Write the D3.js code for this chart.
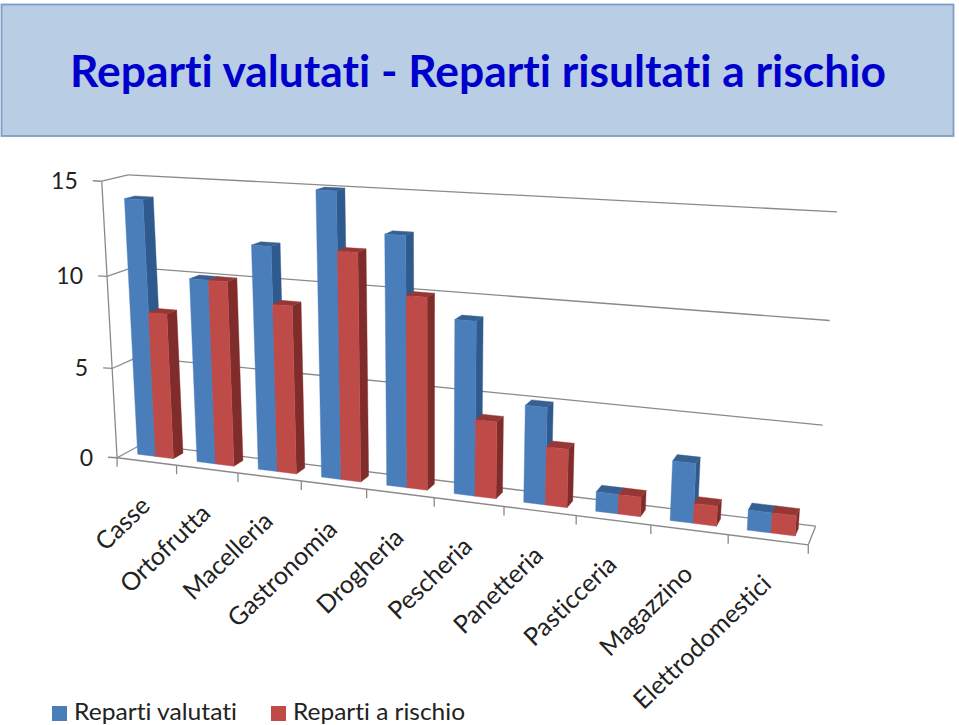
<!DOCTYPE html>
<html><head><meta charset="utf-8">
<script src="https://cdn.jsdelivr.net/npm/d3@7/dist/d3.min.js"></script>
<style>html,body{margin:0;padding:0;background:#fff;overflow:hidden}svg{display:block}text{font-family:Lato,"Open Sans",sans-serif;font-variant-ligatures:none;font-feature-settings:"liga" 0,"clig" 0}</style>
</head><body><svg id="c" width="959" height="725"></svg>
<script>
const categories=["Casse","Ortofrutta","Macelleria","Gastronomia","Drogheria","Pescheria","Panetteria","Pasticceria","Magazzino","Elettrodomestici"];
const repartiValutati=[14,10,12,15,13,9,5,1,3,1];
const repartiRischio=[8,10,9,12,10,4,3,1,1,1];
const seriesNames=["Reparti valutati","Reparti a rischio"];
const valueTicks=[0,5,10,15];

const frontCol=["#4A7EBB","#BE4B48"],sideCol=["#2F5A8E","#7F2C2A"],topCol=["#376092","#953735"];
// camera calibration: corners of the chart box (unit cube) -> screen
const calib=[[0,0,0,119,457],[0,1,0,100,181],[1,0,0,808,546],[0,0,1,140,445],[0,1,1,130,175],[1,0,1,816,525],[1,1,1,837,212]];
function solveCamera(pts){
  const A=[],B=[];
  pts.forEach(([X,Y,Z,u,v])=>{
    A.push([X,Y,Z,1,0,0,0,0,-u*X,-u*Y,-u*Z]);B.push(u);
    A.push([0,0,0,0,X,Y,Z,1,-v*X,-v*Y,-v*Z]);B.push(v);
  });
  const n=11,M=d3.range(n).map(i=>d3.range(n+1).map(j=>
    j<n?d3.sum(A,(r)=>r[i]*r[j]):d3.sum(A,(r,k)=>r[i]*B[k])));
  for(let i=0;i<n;i++){
    let p=i;for(let r=i+1;r<n;r++)if(Math.abs(M[r][i])>Math.abs(M[p][i]))p=r;
    [M[i],M[p]]=[M[p],M[i]];
    for(let r=0;r<n;r++)if(r!==i){const f=M[r][i]/M[i][i];for(let c=i;c<=n;c++)M[r][c]-=f*M[i][c];}
  }
  return d3.range(n).map(i=>M[i][n]/M[i][i]);
}
const P=solveCamera(calib);
const proj=(x,y,z)=>{const w=P[8]*x+P[9]*y+P[10]*z+1;
  return [(P[0]*x+P[1]*y+P[2]*z+P[3])/w,(P[4]*x+P[5]*y+P[6]*z+P[7])/w];};

const xCat=d3.scaleBand().domain(categories).range([0,1]);
const xSer=d3.scaleBand().domain([0,1]).range([0,xCat.bandwidth()]).paddingInner(0).paddingOuter(0.65);
const yVal=d3.scaleLinear().domain([0,15]).range([0,1]);
const zBar=[0.36,0.76];

const svg=d3.select("#c"),line=d3.line();
// title band
svg.append("rect").attr("x",1.5).attr("y",4.5).attr("width",952).attr("height",131.5)
  .attr("fill","#B9CDE5").attr("stroke","#7F9DC6").attr("stroke-width",1.8);
svg.append("text").attr("x",70).attr("y",87).attr("font-size",44).attr("font-weight",700).attr("fill","#0000CC")
  .attr("textLength",816).attr("lengthAdjust","spacingAndGlyphs").text("Reparti valutati - Reparti risultati a rischio");

const grid=svg.append("g").attr("fill","none").attr("stroke","#8A8A8A").attr("stroke-width",1.3);
const seg=(a,b)=>grid.append("path").attr("d",line([a,b]));
valueTicks.forEach(t=>{const y=yVal(t);
  seg(proj(0,y,1),proj(1,y,1));
  seg(proj(0,y,0),proj(0,y,1));
  const p=proj(0,y,0);
  seg([p[0]-9,p[1]-0.5],p);
  svg.append("text").attr("x",p[0]-24).attr("y",p[1]+8).attr("text-anchor","end").attr("font-size",23).attr("fill","#222").text(t);
});
seg(proj(0,1,0),proj(0,0,0));
seg(proj(0,0,0),proj(1,0,0));
seg(proj(1,0,0),proj(1,0,1));
const tickPos=categories.map(c=>xCat(c)).concat([1]);
tickPos.forEach(x=>{const p=proj(x,0,0);seg(p,[p[0],p[1]+9]);});

// bars
const bars=svg.append("g");
categories.forEach((c,i)=>{
  [repartiValutati[i],repartiRischio[i]].forEach((v,s)=>{
    const x0=xCat(c)+xSer(s),x1=x0+xSer.bandwidth(),h=yVal(v),[z0,z1]=zBar;
    const face=(pts,col)=>bars.append("path").attr("d",line(pts)+"Z").attr("fill",col).attr("stroke",col).attr("stroke-width",0.4);
    face([proj(x1,0,z0),proj(x1,0,z1),proj(x1,h,z1),proj(x1,h,z0)],sideCol[s]);
    face([proj(x0,h,z0),proj(x1,h,z0),proj(x1,h,z1),proj(x0,h,z1)],topCol[s]);
    face([proj(x0,0,z0),proj(x1,0,z0),proj(x1,h,z0),proj(x0,h,z0)],frontCol[s]);
  });
});

// category labels
categories.forEach(c=>{
  const p=proj(xCat(c)+xCat.bandwidth()/2,0,0);
  svg.append("text").attr("transform",`translate(${p[0]+5},${p[1]+46}) rotate(-44)`)
    .attr("text-anchor","end").attr("font-size",25).attr("fill","#222").text(c);
});

// legend
const legendX=[52,271],legendTextX=[74,293],legendW=[163,172];
seriesNames.forEach((n,s)=>{
  svg.append("rect").attr("x",legendX[s]).attr("y",706).attr("width",15).attr("height",15).attr("fill",frontCol[s]);
  svg.append("text").attr("x",legendTextX[s]).attr("y",720).attr("font-size",24).attr("fill","#222")
    .attr("textLength",legendW[s]).attr("lengthAdjust","spacingAndGlyphs").text(n);
});
</script></body></html>
